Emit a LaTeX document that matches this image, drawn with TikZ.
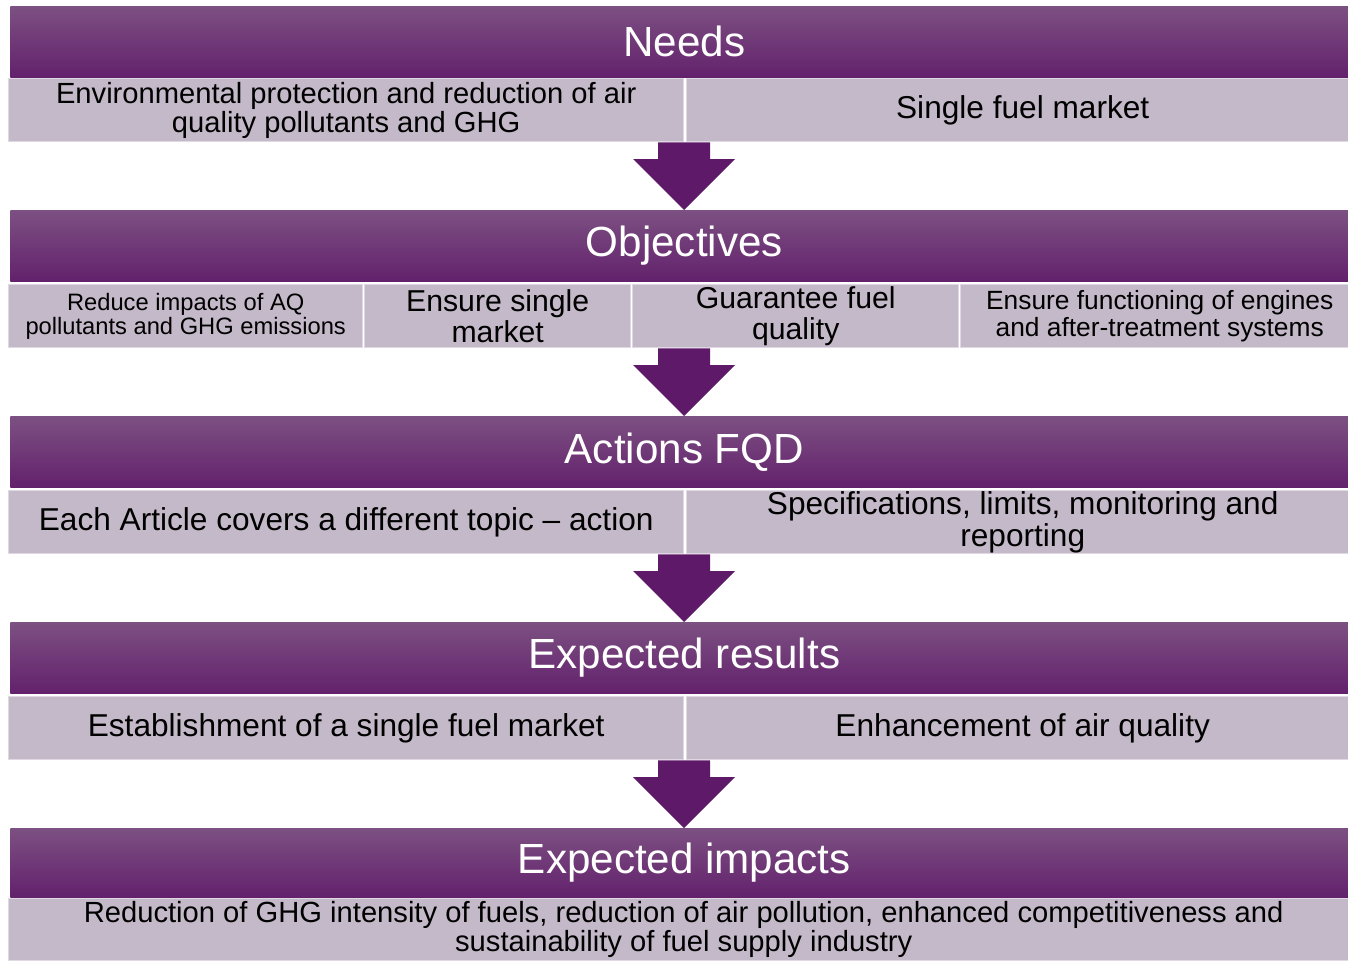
\documentclass[tikz,border=0pt]{standalone}
\usepackage{fontspec}
\setmainfont{Liberation Sans}
\usetikzlibrary{calc}
\definecolor{fqdplum}{RGB}{99,33,108}
\definecolor{fqdplumtop}{RGB}{124,80,130}
\definecolor{fqdlilac}{RGB}{196,185,200}
\definecolor{fqdlilacedge}{RGB}{224,216,227}
\definecolor{fqdarrow}{RGB}{94,26,104}
\tikzset{
  header/.style={top color=fqdplumtop, bottom color=fqdplum, anchor=north west,
                 inner sep=0pt, minimum width=1348*0.02cm, minimum height=71*0.02cm,
                 text=white, font=\fontsize{24}{24}\selectfont},
  subbox/.style={fill=fqdlilac, draw=fqdlilacedge, line width=0.8pt, anchor=north west,
                 inner sep=0pt, minimum width=#1*0.02cm, minimum height=63*0.02cm,
                 align=center},
  sz/.style={font=\fontsize{#1}{#1}\selectfont},
  arrowfill/.style={fill=fqdarrow},
}
% block arrow from the bottom of one row down to the next header
\newcommand{\flowarrow}[2]{%
  \path (axis |- #1.south) coordinate (stem);
  \path (axis |- #2.north) coordinate (tip);
  \fill[arrowfill] ($(stem)+(-26,0)$) -- ($(tip)+(-26,-51)$) -- ($(tip)+(-51,-51)$)
    -- (tip) -- ($(tip)+(51,-51)$) -- ($(tip)+(26,-51)$) -- ($(stem)+(26,0)$) -- cycle;}

\begin{document}
\begin{tikzpicture}[x=0.02cm, y=-0.02cm]
\useasboundingbox (0,0) rectangle (1348,960);
\coordinate (axis) at (684,0);

% --- Needs ---
\node[header] (needs) at (10,6) {Needs};
\node[subbox=675, sz=16.6] (needsEnv) at (8,78)
  {Environmental protection and reduction of air\\quality pollutants and GHG};
\node[subbox=672, sz=18] (needsFuel) at (686,78) {Single fuel market};

% --- Objectives ---
\node[header] (objectives) at (10,210) {Objectives};
\node[subbox=354, sz=13.5] (objReduce) at (8,284)
  {Reduce impacts of AQ\\pollutants and GHG emissions};
\node[subbox=266, sz=17.2] (objMarket) at (364,284) {Ensure single\\market};
\node[subbox=326, sz=17.2] (objQuality) at (632,284) {Guarantee fuel\\quality};
\node[subbox=398, sz=15] (objEngines) at (960,284)
  {Ensure functioning of engines\\and after-treatment systems};

% --- Actions ---
\node[header] (actions) at (10,416) {Actions FQD};
\node[subbox=675, sz=18] (actArticle) at (8,490)
  {Each Article covers a different topic -- action};
\node[subbox=672, sz=18] (actSpecs) at (686,490)
  {Specifications, limits, monitoring and\\reporting};

% --- Expected results ---
\node[header] (results) at (10,622) {Expected results};
\node[subbox=675, sz=18] (resMarket) at (8,696)
  {Establishment of a single fuel market};
\node[subbox=672, sz=18] (resAir) at (686,696) {Enhancement of air quality};

% --- Expected impacts ---
\node[header, minimum height=69*0.02cm] (impacts) at (10,828) {Expected impacts};
\node[subbox=1350, minimum height=62*0.02cm, sz=16.6] (impGHG) at (8,898)
  {Reduction of GHG intensity of fuels, reduction of air pollution, enhanced competitiveness and\\sustainability of fuel supply industry};

% arrows between the rows
\flowarrow{needsEnv}{objectives}
\flowarrow{objReduce}{actions}
\flowarrow{actArticle}{results}
\flowarrow{resMarket}{impacts}

\end{tikzpicture}
\end{document}
